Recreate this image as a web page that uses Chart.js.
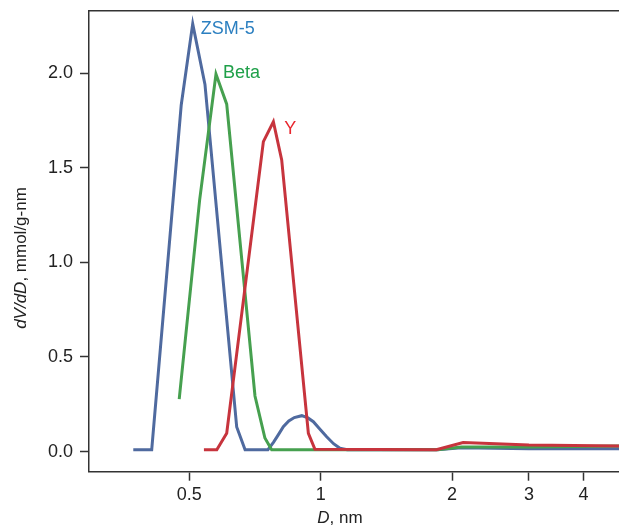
<!DOCTYPE html>
<html>
<head>
<meta charset="utf-8">
<script src="https://cdn.jsdelivr.net/npm/chart.js@4.4.1/dist/chart.umd.min.js"></script>
<style>
  html, body { margin: 0; padding: 0; background: #fff; }
  #wrap { width: 619px; height: 527px; }
</style>
</head>
<body>
<div id="wrap"><canvas id="poreChart"></canvas></div>
<script>
// pore size distributions, D in nm, dV/dD in mmol/g-nm
var zsmD = [0.372, 0.410, 0.479, 0.509, 0.543, 0.642, 0.671, 0.757, 0.78, 0.80, 0.821, 0.845, 0.87, 0.905, 0.935, 0.962, 0.995, 1.032, 1.07, 1.107, 1.15, 1.85, 2.1, 3.0, 4.9];
var zsmV = [0.01, 0.01, 1.83, 2.26, 1.94, 0.13, 0.01, 0.01, 0.05, 0.09, 0.132, 0.162, 0.18, 0.19, 0.178, 0.158, 0.12, 0.079, 0.042, 0.018, 0.01, 0.01, 0.02, 0.015, 0.015];

var betaD = [0.474, 0.528, 0.5755, 0.609, 0.707, 0.745, 0.772, 1.85, 2.1, 3.0, 4.9];
var betaV = [0.277, 1.33, 1.995, 1.836, 0.294, 0.072, 0.01, 0.01, 0.025, 0.025, 0.03];

var yD = [0.540, 0.578, 0.609, 0.739, 0.779, 0.814, 0.937, 0.970, 1.84, 2.12, 3.0, 4.9];
var yV = [0.01, 0.01, 0.097, 1.638, 1.743, 1.541, 0.097, 0.012, 0.01, 0.048, 0.035, 0.03];

var xTicks = [0.5, 1, 2, 3, 4];
var yTicks = [0, 0.5, 1, 1.5, 2];

var seriesNames = ["ZSM-5", "Beta", "Y"];
var lineColors = ["#4f6a9f", "#46a04f", "#c7343d"];
var textColors = ["#2b7fc0", "#1fa049", "#e8262e"];
var labelOffsets = [[8, 5], [7, -1], [11, 7]];

function toPoints(xs, ys) {
  return xs.map(function (x, i) { return { x: x, y: ys[i] }; });
}

var tickFont = { family: "'Liberation Sans', Arial, sans-serif", size: 18 };
var axisColor = "#333333";

var labelPlugin = {
  id: "seriesLabels",
  afterDatasetsDraw: function (chart) {
    var ctx = chart.ctx;
    var xs = chart.scales.x, ys = chart.scales.y;
    ctx.save();
    ctx.font = "18px 'Liberation Sans', Arial, sans-serif";
    ctx.textBaseline = "middle";
    ctx.textAlign = "left";
    chart.data.datasets.forEach(function (ds, i) {
      var peak = ds.data.reduce(function (a, b) { return b.y > a.y ? b : a; });
      var k = seriesNames.indexOf(ds.label);
      ctx.fillStyle = textColors[k];
      ctx.fillText(ds.label, xs.getPixelForValue(peak.x) + labelOffsets[k][0],
                   ys.getPixelForValue(peak.y) + labelOffsets[k][1]);
    });
    ctx.restore();
  },
  afterDraw: function (chart) {
    var ctx = chart.ctx;
    var italic = "italic 17px 'Liberation Sans', Arial, sans-serif";
    var normal = "17px 'Liberation Sans', Arial, sans-serif";
    ctx.save();
    ctx.fillStyle = "#222";
    ctx.textBaseline = "middle";
    ctx.textAlign = "left";

    // x title: D, nm
    ctx.font = italic;
    var w1 = ctx.measureText("D").width;
    ctx.font = normal;
    var w2 = ctx.measureText(", nm").width;
    var cx = 340, cy = 518;
    var sx = cx - (w1 + w2) / 2;
    ctx.font = italic; ctx.fillText("D", sx, cy);
    ctx.font = normal; ctx.fillText(", nm", sx + w1, cy);

    // y title: dV/dD, mmol/g-nm
    ctx.translate(21, 258);
    ctx.rotate(-Math.PI / 2);
    ctx.font = italic;
    var a = ctx.measureText("dV/dD").width;
    ctx.font = normal;
    var b = ctx.measureText(", mmol/g-nm").width;
    var st = -(a + b) / 2;
    ctx.font = italic; ctx.fillText("dV/dD", st, 0);
    ctx.font = normal; ctx.fillText(", mmol/g-nm", st + a, 0);
    ctx.restore();
  }
};

var ctx = document.getElementById("poreChart");
var poreChart = new Chart(ctx, {
  type: "scatter",
  data: {
    datasets: [
      { label: seriesNames[0], data: toPoints(zsmD, zsmV), borderColor: lineColors[0], order: 3 },
      { label: seriesNames[1], data: toPoints(betaD, betaV), borderColor: lineColors[1], order: 2 },
      { label: seriesNames[2], data: toPoints(yD, yV), borderColor: lineColors[2], order: 1 }
    ]
  },
  options: {
    responsive: true,
    maintainAspectRatio: false,
    animation: false,
    showLine: true,
    elements: {
      point: { radius: 0, hoverRadius: 0 },
      line: { borderWidth: 3, tension: 0, borderJoinStyle: "miter", fill: false }
    },
    layout: { padding: { top: 11, right: 0, left: 0, bottom: 0 } },
    plugins: {
      legend: { display: false },
      tooltip: { enabled: false },
      title: { display: false }
    },
    scales: {
      x: {
        type: "logarithmic",
        position: "bottom",
        min: 0.2945,
        max: 4.825,
        afterBuildTicks: function (axis) {
          axis.ticks = xTicks.map(function (v) { return { value: v }; });
        },
        afterFit: function (axis) {
          axis.height = 55.3;
          axis.paddingLeft = 0;
          axis.paddingRight = 0;
        },
        ticks: {
          color: "#222",
          font: tickFont,
          padding: 4,
          maxRotation: 0,
          autoSkip: false,
          callback: function (v) { return String(v); }
        },
        grid: { drawOnChartArea: false, drawTicks: true, tickLength: 9, tickColor: axisColor, tickWidth: 1.5 },
        border: { display: true, color: axisColor, width: 1.5 }
      },
      xTop: {
        type: "logarithmic",
        position: "top",
        min: 0.2945,
        max: 4.825,
        afterFit: function (axis) {
          axis.height = 0;
          axis.paddingLeft = 0;
          axis.paddingRight = 0;
        },
        ticks: { display: false },
        grid: { drawOnChartArea: false, drawTicks: false },
        border: { display: true, color: axisColor, width: 1.5 }
      },
      y: {
        type: "linear",
        min: -0.106,
        max: 2.328,
        afterBuildTicks: function (axis) {
          axis.ticks = yTicks.map(function (v) { return { value: v }; });
        },
        afterFit: function (axis) {
          axis.width = 89;
          axis.paddingTop = 0;
          axis.paddingBottom = 0;
        },
        ticks: {
          color: "#222",
          font: tickFont,
          padding: 7,
          callback: function (v) { return v.toFixed(1); }
        },
        grid: { drawOnChartArea: false, drawTicks: true, tickLength: 9, tickColor: axisColor, tickWidth: 1.5 },
        border: { display: true, color: axisColor, width: 1.5 }
      }
    }
  },
  plugins: [labelPlugin]
});
</script>
</body>
</html>
